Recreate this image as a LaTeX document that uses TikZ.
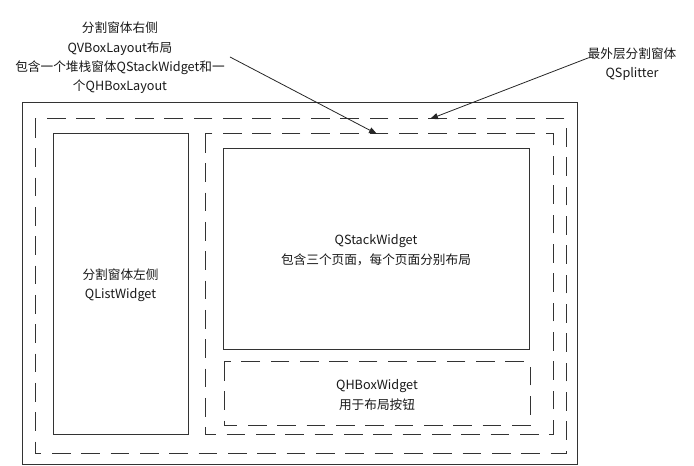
\documentclass[tikz,border=0pt]{standalone}
\usepackage{fontspec}
\setmainfont{Noto Sans CJK SC}
\usetikzlibrary{arrows.meta}
\begin{document}
\begin{tikzpicture}[x=0.75pt,y=-0.75pt,
  every node/.style={font=\fontsize{9.5pt}{14.5pt}\selectfont, text=black!90, align=center, inner sep=0pt},
  solidbox/.style={draw=black!80, line width=0.75pt},
  dashbox/.style={draw=black!80, line width=0.75pt, dash pattern=on 14pt off 8pt},
  ptr/.style={draw=black!85, line width=0.6pt, -{Triangle[length=6pt,width=4.5pt]}}]
\useasboundingbox (0,0) rectangle (694,466);
% outer splitter
\draw[solidbox] (22,103) rectangle (577,465);
\draw[dashbox] (35,119) rectangle (566,454);
\coordinate (outerdash) at (430,119);
% left list widget
\draw[solidbox] (53,134) rectangle (188,435);
\node (listtxt) at (120.5,285) {分割窗体左侧\\QListWidget};
% right VBox layout
\draw[dashbox] (205,134) rectangle (553,435);
\coordinate (innerdash) at (377,134);
% stack widget
\draw[solidbox] (223,149) rectangle (529,350);
\node (stacktxt) at (376,250) {QStackWidget\\包含三个页面，每个页面分别布局};
% HBox
\draw[dashbox] (224,362) rectangle (530,426);
\node (hboxtxt) at (377,395) {QHBoxWidget\\用于布局按钮};
% labels
\node (lbl1) at (120,58) {分割窗体右侧\\QVBoxLayout布局\\包含一个堆栈窗体QStackWidget和一\\个QHBoxLayout};
\coordinate (a1s) at (230,57);
\draw[ptr] (a1s) -- (innerdash);
\node (lbl2) at (632,64) {最外层分割窗体\\QSplitter};
\coordinate (a2s) at (588,58);
\draw[ptr] (a2s) -- (outerdash);
\end{tikzpicture}
\end{document}
